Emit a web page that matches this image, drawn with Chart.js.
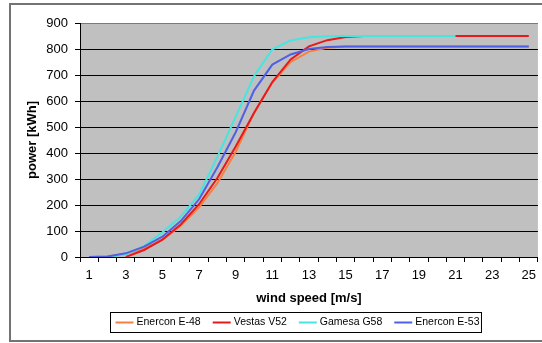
<!DOCTYPE html>
<html>
<head>
<meta charset="utf-8">
<script src="https://cdn.jsdelivr.net/npm/chart.js@4.4.1/dist/chart.umd.min.js"></script>
<style>
  html, body { margin: 0; padding: 0; background: #fff; }
</style>
</head>
<body>
<canvas id="chart" width="542" height="343"></canvas>
<script>
// wind speed categories [m/s]
const windSpeeds = [1, 2, 3, 4, 5, 6, 7, 8, 9, 10, 11, 12, 13, 14, 15, 16, 17, 18, 19, 20, 21, 22, 23, 24, 25];

// power curves [kW]
const enerconE48 = [0, 2, 12, 32, 66, 120, 191, 284, 405, 555, 671, 750, 790, 805, 810, 810, 810, 810, 810, 810, 810, 810, 810, 810, 810];
const vestasV52 = [null, null, 0, 27, 67, 125, 203, 304, 425, 554, 673, 760, 810, 834, 846, 850, 850, 850, 850, 850, 850, 850, 850, 850, 850];
const gamesaG58 = [0, 0, 10, 42, 95, 155, 240, 385, 540, 695, 799, 833, 845, 849, 850, 850, 850, 850, 850, 850, 850, null, null, null, null];
const enerconE53 = [0, 2, 14, 40, 78, 138, 222, 345, 480, 640, 740, 779, 800, 808, 810, 810, 810, 810, 810, 810, 810, 810, 810, 810, 810];

const seriesNames = ['Enercon E-48', 'Vestas V52', 'Gamesa G58', 'Enercon E-53'];
const seriesColors = ['#f6813f', '#e8181c', '#44e6e0', '#4f60e6'];
const seriesData = [enerconE48, vestasV52, gamesaG58, enerconE53];

const font = 'Liberation Sans, Arial, sans-serif';

// white page, grey frame and the grey plot area
const backdrop = {
  id: 'backdrop',
  beforeDraw(chart) {
    const { ctx, chartArea } = chart;
    ctx.save();
    ctx.fillStyle = '#ffffff';
    ctx.fillRect(0, 0, chart.width, chart.height);
    ctx.strokeStyle = '#737373';
    ctx.lineWidth = 2;
    ctx.strokeRect(10, 4, 700, 337);
    ctx.fillStyle = '#c0c0c0';
    ctx.fillRect(chartArea.left, chartArea.top, chartArea.right - chartArea.left, chartArea.bottom - chartArea.top);
    ctx.restore();
  },
};

// Excel style legend in a boxed row under the axis title
const boxedLegend = {
  id: 'boxedLegend',
  afterDraw(chart) {
    const { ctx } = chart;
    const sample = 18, gap = 3, itemGap = 12, padL = 5, padR = 2;
    ctx.save();
    ctx.font = '10.5px ' + font;
    const widths = chart.data.datasets.map((ds) => ctx.measureText(ds.label).width);
    const total = padL + padR + widths.reduce((a, w) => a + sample + gap + w, 0) + itemGap * (widths.length - 1);
    const cx = 295, top = 312, h = 20;
    let x = Math.round(cx - total / 2) + 0.5;
    ctx.strokeStyle = '#000';
    ctx.lineWidth = 1;
    ctx.strokeRect(x, top + 0.5, total, h);
    x += padL;
    const mid = top + h / 2 + 0.5;
    chart.data.datasets.forEach((ds, i) => {
      ctx.strokeStyle = ds.borderColor;
      ctx.lineWidth = 2;
      ctx.beginPath();
      ctx.moveTo(x, mid);
      ctx.lineTo(x + sample, mid);
      ctx.stroke();
      x += sample + gap;
      ctx.fillStyle = '#000';
      ctx.textBaseline = 'middle';
      ctx.fillText(ds.label, x, mid);
      x += widths[i] + itemGap;
    });
    ctx.restore();
  },
};

new Chart(document.getElementById('chart'), {
  type: 'line',
  data: {
    labels: windSpeeds,
    datasets: seriesNames.map((name, i) => ({
      label: name,
      data: seriesData[i],
      borderColor: seriesColors[i],
      backgroundColor: seriesColors[i],
      borderWidth: 2,
      pointRadius: 0,
      tension: 0,
      spanGaps: false,
      order: seriesNames.length - i,
    })),
  },
  options: {
    responsive: false,
    animation: false,
    layout: { padding: { left: 18, right: 0, top: 23, bottom: 34 } },
    plugins: {
      legend: { display: false },
      tooltip: { enabled: false },
    },
    scales: {
      x: {
        type: 'category',
        offset: true,
        afterFit: (s) => { s.height = 52; },
        grid: {
          offset: true,
          drawOnChartArea: false,
          drawTicks: true,
          tickLength: 5,
          tickColor: '#000',
        },
        border: { display: true, color: '#000' },
        ticks: {
          autoSkip: false,
          maxRotation: 0,
          padding: 6,
          color: '#000',
          font: { family: font, size: 13 },
          callback: (v, idx) => (idx % 2 === 0 ? windSpeeds[idx] : ''),
        },
        title: {
          display: true,
          text: 'wind speed [m/s]',
          color: '#000',
          font: { family: font, size: 13, weight: 'bold' },
          padding: { top: 0, bottom: 3 },
        },
      },
      y: {
        min: 0,
        max: 900,
        afterFit: (s) => { s.width = 62; },
        grid: {
          color: (c) => (c.tick && c.tick.value === 900 ? '#7a7a7a' : '#000'),
          tickColor: '#000',
          tickLength: 5,
          lineWidth: 1,
        },
        border: { display: true, color: '#000' },
        ticks: {
          stepSize: 100,
          padding: 7,
          color: '#000',
          font: { family: font, size: 13 },
        },
        title: {
          display: true,
          text: 'power [kWh]',
          color: '#000',
          font: { family: font, size: 13, weight: 'bold' },
          padding: { top: 7, bottom: 0 },
        },
      },
    },
  },
  plugins: [backdrop, boxedLegend],
});
</script>
</body>
</html>
